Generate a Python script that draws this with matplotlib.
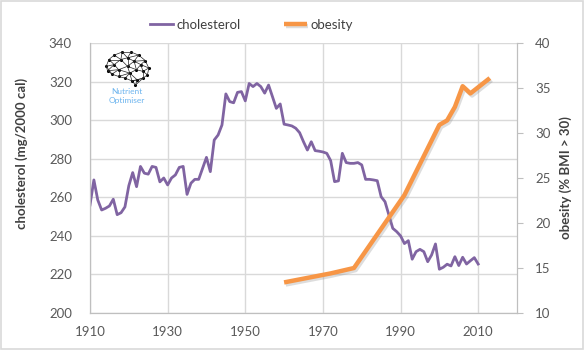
import numpy as np
import matplotlib
matplotlib.use('Agg')
import matplotlib.pyplot as plt
import matplotlib.patheffects as pe
from matplotlib.patches import Rectangle

# cholesterol, yearly 1910-2010 (mg/2000 cal)
chol_years = list(range(1910, 2011))
chol_vals = [256, 269, 258.6, 253.4, 254.3, 255.5, 259, 251, 252, 255,
             266, 272.8, 265.5, 276, 272.5, 272, 276, 275.5, 268, 270,
             266.4, 270, 271.6, 275.5, 276, 261.5, 267.3, 269.3, 269.3, 275,
             280.7, 273.3, 289.7, 292.3, 297.5, 313.6, 309.6, 309, 314.4, 314.8,
             310, 319, 317.4, 319, 317.4, 314, 318.2, 312.2, 306.1, 308.4,
             297.9, 297.5, 297, 295.8, 293.5, 288.8, 284.5, 288.8, 284.2, 283.9,
             283.5, 282.8, 279, 268.1, 268.5, 282.8, 278, 277.6, 277.6, 278,
             276.8, 269.3, 269.3, 269, 268.6, 260.3, 257.7, 250.8, 243.9, 242.2,
             240, 236, 237.5, 227.9, 231.8, 233, 231.8, 226.6, 230.1, 235.8,
             222.7, 223.7, 225.3, 224.4, 229.2, 224.6, 228.9, 225.4, 227.1, 228.7,
             225.4]

# obesity (% BMI > 30)
ob_years = [1960, 1972, 1978, 1991, 2000, 2002, 2004, 2006, 2008, 2013]
ob_vals = [13.4, 14.4, 15.0, 23.1, 30.9, 31.4, 32.9, 35.2, 34.4, 36.1]

x_ticks = [1910, 1930, 1950, 1970, 1990, 2010]
chol_ticks = list(range(200, 341, 20))
ob_ticks = list(range(10, 41, 5))

PURPLE = '#8064A2'
ORANGE = '#F79646'
GRID = '#D9D9D9'
SPINE = '#BFBFBF'
TXT = '#595959'

plt.rcParams['font.family'] = ['Lato', 'DejaVu Sans']

fig = plt.figure(figsize=(5.84, 3.5), dpi=100)
fig.patches.append(Rectangle((0.001, 0.002), 0.997, 0.995, transform=fig.transFigure,
                             fill=False, edgecolor=GRID, lw=1.2))
ax = fig.add_axes([90/584, 37/350, 427/584, 270/350])
ax2 = ax.twinx()

l1, = ax.plot(chol_years, chol_vals, color=PURPLE, lw=2, label='cholesterol', zorder=3)
l2, = ax2.plot(ob_years, ob_vals, color=ORANGE, lw=3.2, label='obesity',
               solid_capstyle='butt',
               path_effects=[pe.SimpleLineShadow(offset=(1.2, -1.5), shadow_color='#909090', alpha=0.3),
                             pe.Normal()])

ax.set_xlim(1910, 2020)
ax.set_ylim(200, 340)
ax2.set_ylim(10, 40)
ax.set_xticks(x_ticks)
ax.set_yticks(chol_ticks)
ax2.set_yticks(ob_ticks)
ax.grid(True, color=GRID, lw=1)
ax.set_axisbelow(True)

for a in (ax, ax2):
    for s in a.spines.values():
        s.set_color(SPINE)
    a.spines['top'].set_visible(False)
ax.tick_params(axis='both', length=0, labelsize=9.5, labelcolor=TXT, pad=9)
ax.tick_params(axis='y', pad=13)
ax2.tick_params(axis='y', length=4, color=SPINE, labelsize=9.5, labelcolor=TXT, pad=9)

ax.set_ylabel('cholesterol (mg/2000 cal)', fontsize=9.5, fontweight='bold', color='#404040')
ax.yaxis.set_label_coords(-0.145, 0.59)
ax2.set_ylabel('obesity (% BMI > 30)', fontsize=9.5, fontweight='bold', color='#404040')
ax2.yaxis.set_label_coords(1.1, 0.5)

fig.legend(handles=[l1, l2], loc='center', bbox_to_anchor=(0.431, 0.929), ncol=2,
           frameon=False, fontsize=9.5, handlelength=1.7, columnspacing=3.3,
           handletextpad=0.3, labelcolor='#404040')

# logo
lg = fig.add_axes([104/584, 1 - 86/350, 47/584, 36/350])
lg.axis('off')
nodes = np.array([(0.02, 0.55), (0.08, 0.75), (0.2, 0.88), (0.38, 0.97), (0.58, 0.97),
                  (0.75, 0.88), (0.9, 0.72), (0.98, 0.5), (0.95, 0.3), (0.85, 0.2),
                  (0.72, 0.15), (0.68, 0.0), (0.6, 0.12), (0.45, 0.2), (0.3, 0.25),
                  (0.15, 0.32), (0.05, 0.42), (0.2, 0.6), (0.35, 0.75), (0.5, 0.8),
                  (0.65, 0.7), (0.8, 0.6), (0.3, 0.45), (0.5, 0.55), (0.7, 0.45),
                  (0.55, 0.35), (0.85, 0.4)])
for i in range(len(nodes)):
    for j in range(i + 1, len(nodes)):
        if np.hypot(*(nodes[i] - nodes[j])) < 0.27:
            lg.plot(*zip(nodes[i], nodes[j]), color='#222222', lw=0.5)
lg.scatter(nodes[:, 0], nodes[:, 1], s=1.5, color='black')
lg.set_xlim(-0.03, 1.03)
lg.set_ylim(-0.03, 1.03)
fig.text(127/584, 1 - 91/350, 'Nutrient', fontsize=6, color='#6CB4EE', ha='center', va='center')
fig.text(127/584, 1 - 100/350, 'Optimiser', fontsize=6, color='#6CB4EE', ha='center', va='center')

fig.savefig('out.png', dpi=100)
